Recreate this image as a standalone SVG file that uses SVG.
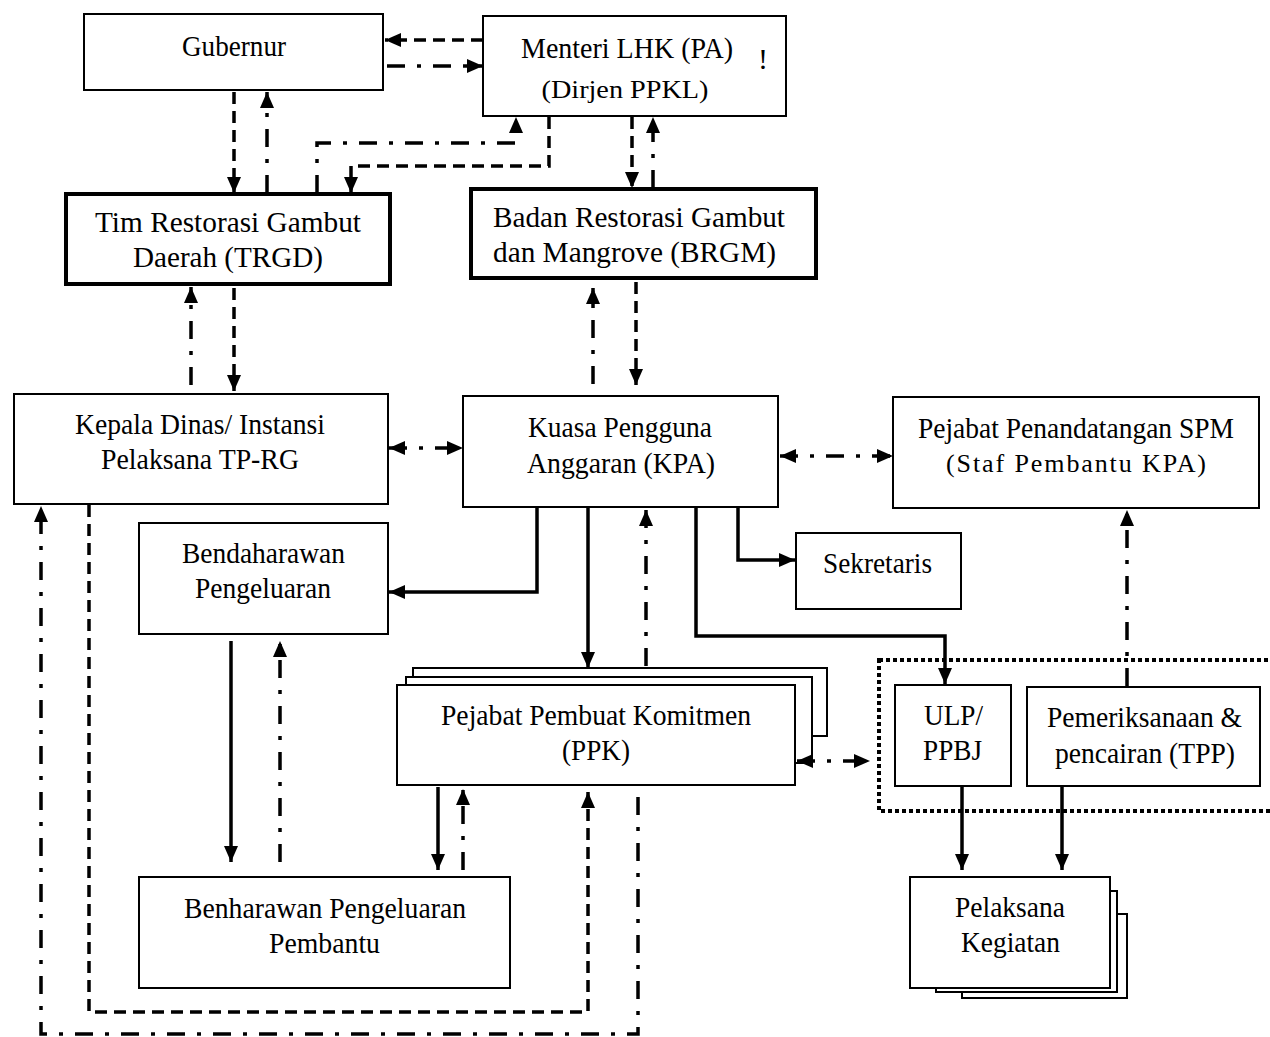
<svg xmlns="http://www.w3.org/2000/svg" width="1270" height="1037" viewBox="0 0 1270 1037">
<style>
.box{fill:#fff;stroke:#000;stroke-width:2}
.thick{stroke-width:4}
.t{font-family:"Liberation Serif","Times New Roman",serif;font-size:30px;fill:#000;text-anchor:middle}
.s{font-size:26px}
.c{fill:none;stroke:#000;stroke-width:3.5}
.d{stroke-dasharray:12 7}
.dd{stroke-dasharray:18 12 4 12}
.grp{fill:none;stroke:#000;stroke-width:4;stroke-dasharray:4 3}
</style>
<defs>
<marker id="ah" markerUnits="userSpaceOnUse" markerWidth="16" markerHeight="16" refX="16" refY="7" orient="auto-start-reverse" viewBox="0 0 16 14">
<path d="M0,0 L16,7 L0,14 Z" fill="#000"/>
</marker>
</defs>
<rect x="0" y="0" width="1270" height="1037" fill="#fff"/>

<g id="group-ulp-tpp">
<rect class="grp" x="879" y="660" width="400" height="151"/>
</g>

<g id="gubernur">
<rect class="box" x="84" y="14" width="299" height="76"/>
<text class="t" x="234" y="56" textLength="104" lengthAdjust="spacingAndGlyphs">Gubernur</text>
</g>

<g id="menteri">
<rect class="box" x="483" y="16" width="303" height="100"/>
<text class="t" x="627" y="58" textLength="212" lengthAdjust="spacingAndGlyphs">Menteri LHK (PA)</text>
<text class="t s" x="625" y="98" textLength="167" lengthAdjust="spacingAndGlyphs">(Dirjen PPKL)</text>
<text class="t" x="763" y="69">!</text>
</g>

<g id="trgd">
<rect class="box thick" x="66" y="194" width="324" height="90"/>
<text class="t" x="228" y="232" textLength="266" lengthAdjust="spacingAndGlyphs">Tim Restorasi Gambut</text>
<text class="t" x="228" y="267" textLength="190" lengthAdjust="spacingAndGlyphs">Daerah (TRGD)</text>
</g>

<g id="brgm">
<rect class="box thick" x="471" y="189" width="345" height="89"/>
<text class="t" x="639" y="227" textLength="292" lengthAdjust="spacingAndGlyphs">Badan Restorasi Gambut</text>
<text class="t" x="634.5" y="262" textLength="283" lengthAdjust="spacingAndGlyphs">dan Mangrove (BRGM)</text>
</g>

<g id="kepala-dinas">
<rect class="box" x="14" y="394" width="374" height="110"/>
<text class="t" x="200" y="434" textLength="250" lengthAdjust="spacingAndGlyphs">Kepala Dinas/ Instansi</text>
<text class="t" x="200" y="469" textLength="198" lengthAdjust="spacingAndGlyphs">Pelaksana TP-RG</text>
</g>

<g id="kpa">
<rect class="box" x="463" y="396" width="315" height="111"/>
<text class="t" x="620" y="437" textLength="184" lengthAdjust="spacingAndGlyphs">Kuasa Pengguna</text>
<text class="t" x="621" y="473" textLength="188" lengthAdjust="spacingAndGlyphs">Anggaran (KPA)</text>
</g>

<g id="spm">
<rect class="box" x="893" y="397" width="366" height="111"/>
<text class="t" x="1076" y="438" textLength="316" lengthAdjust="spacingAndGlyphs">Pejabat Penandatangan SPM</text>
<text class="t s" x="1076" y="472" textLength="260" lengthAdjust="spacing">(Staf Pembantu KPA)</text>
</g>

<g id="sekretaris">
<rect class="box" x="796" y="533" width="165" height="76"/>
<text class="t" x="877.5" y="573" textLength="109" lengthAdjust="spacingAndGlyphs">Sekretaris</text>
</g>

<g id="bendaharawan">
<rect class="box" x="139" y="523" width="249" height="111"/>
<text class="t" x="263.5" y="563" textLength="163" lengthAdjust="spacingAndGlyphs">Bendaharawan</text>
<text class="t" x="263" y="598" textLength="136" lengthAdjust="spacingAndGlyphs">Pengeluaran</text>
</g>

<g id="ppk">
<rect class="box" x="413" y="668" width="414" height="68"/>
<rect class="box" x="406" y="677" width="406" height="86"/>
<rect class="box" x="397" y="685" width="398" height="100"/>
<text class="t" x="596" y="725" textLength="310" lengthAdjust="spacingAndGlyphs">Pejabat Pembuat Komitmen</text>
<text class="t" x="596" y="760" textLength="68" lengthAdjust="spacingAndGlyphs">(PPK)</text>
</g>

<g id="ulp">
<rect class="box" x="895" y="685" width="116" height="101"/>
<text class="t" x="953.5" y="725" textLength="59" lengthAdjust="spacingAndGlyphs">ULP/</text>
<text class="t" x="952.5" y="760" textLength="59" lengthAdjust="spacingAndGlyphs">PPBJ</text>
</g>

<g id="tpp">
<rect class="box" x="1027" y="687" width="233" height="99"/>
<text class="t" x="1144.5" y="727" textLength="195" lengthAdjust="spacingAndGlyphs">Pemeriksanaan &amp;</text>
<text class="t" x="1145" y="763" textLength="180" lengthAdjust="spacingAndGlyphs">pencairan (TPP)</text>
</g>

<g id="pelaksana-kegiatan">
<rect class="box" x="962" y="914" width="165" height="84"/>
<rect class="box" x="936" y="891" width="181" height="101"/>
<rect class="box" x="910" y="877" width="200" height="111"/>
<text class="t" x="1010" y="917" textLength="110" lengthAdjust="spacingAndGlyphs">Pelaksana</text>
<text class="t" x="1010.5" y="952" textLength="99" lengthAdjust="spacingAndGlyphs">Kegiatan</text>
</g>

<g id="bendahara-pembantu">
<rect class="box" x="139" y="877" width="371" height="111"/>
<text class="t" x="325" y="918" textLength="282" lengthAdjust="spacingAndGlyphs">Benharawan Pengeluaran</text>
<text class="t" x="324.5" y="953" textLength="111" lengthAdjust="spacingAndGlyphs">Pembantu</text>
</g>

<g id="connectors">
<path class="c d" d="M483,40 H385" marker-end="url(#ah)"/>
<path class="c dd" d="M387,66 H483" marker-end="url(#ah)"/>
<path class="c d" d="M234,92 V193" marker-end="url(#ah)"/>
<path class="c dd" d="M267,193 V92" marker-end="url(#ah)"/>
<path class="c dd" d="M317,193 V143 H516 V117" marker-end="url(#ah)"/>
<path class="c d" d="M549,117 V166 H351 V193" marker-end="url(#ah)"/>
<path class="c d" d="M632,117 V188" marker-end="url(#ah)"/>
<path class="c dd" d="M653,188 V117" marker-end="url(#ah)"/>
<path class="c dd" d="M191,385 V287" marker-end="url(#ah)"/>
<path class="c d" d="M234,288 V391" marker-end="url(#ah)"/>
<path class="c dd" d="M593,384 V288" marker-end="url(#ah)"/>
<path class="c d" d="M636,282 V385" marker-end="url(#ah)"/>
<path class="c dd" d="M389,448 H463" marker-start="url(#ah)" marker-end="url(#ah)"/>
<path class="c dd" d="M780,456 H893" marker-start="url(#ah)" marker-end="url(#ah)"/>
<path class="c" d="M738,508 V560 H795" marker-end="url(#ah)"/>
<path class="c" d="M537,508 V592 H389" marker-end="url(#ah)"/>
<path class="c" d="M588,508 V668" marker-end="url(#ah)"/>
<path class="c dd" d="M646,666 V510" marker-end="url(#ah)"/>
<path class="c" d="M696,508 V636 H945 V684" marker-end="url(#ah)"/>
<path class="c dd" d="M797,761 H870" marker-start="url(#ah)" marker-end="url(#ah)"/>
<path class="c dd" d="M1127,686 V510" marker-end="url(#ah)"/>
<path class="c" d="M962,787 V870" marker-end="url(#ah)"/>
<path class="c" d="M1062,787 V870" marker-end="url(#ah)"/>
<path class="c" d="M231,641 V862" marker-end="url(#ah)"/>
<path class="c dd" d="M280,862 V641" marker-end="url(#ah)"/>
<path class="c" d="M438,787 V870" marker-end="url(#ah)"/>
<path class="c dd" d="M463,870 V789" marker-end="url(#ah)"/>
<path class="c d" d="M89,505 V1012 H588 V792" marker-end="url(#ah)"/>
<path class="c dd" d="M638,797 V1034 H41 V506" marker-end="url(#ah)"/>
</g>
</svg>
